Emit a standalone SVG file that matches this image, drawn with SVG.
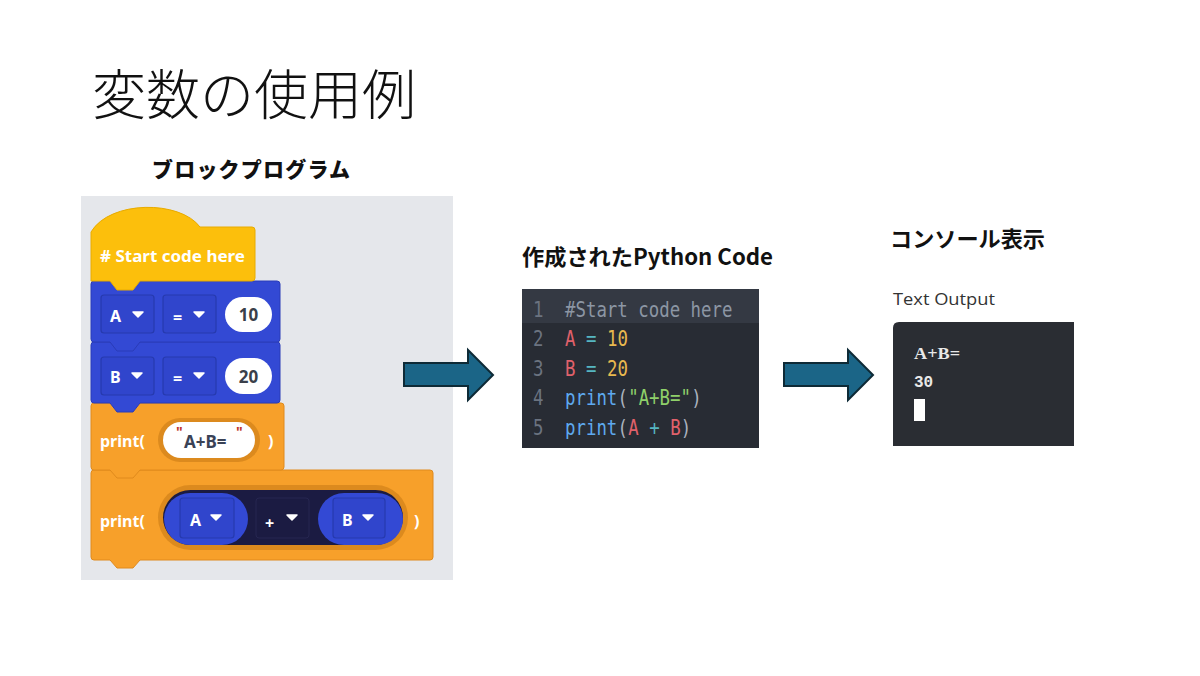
<svg xmlns="http://www.w3.org/2000/svg" width="1200" height="676" viewBox="0 0 1200 676">
<defs>
<style>
.jp{font-family:"Noto Sans CJK JP","Noto Sans",sans-serif;fill:#111}
.bt{font-family:"Noto Sans","Open Sans",sans-serif;font-weight:700;font-size:16px;fill:#fff}
.blue{fill:#3349d4;stroke:#2a3cb8;stroke-width:1}
.org{fill:#f7a02a;stroke:#e08a1c;stroke-width:1}
.dd{fill:#3045cc;stroke:#263aae;stroke-width:1.2}
.code{font-family:"DejaVu Sans Mono","Liberation Mono",monospace;font-size:17.4px}
.cm{fill:#8c96a4}.vr{fill:#e0616b}.op{fill:#56b6c2}.nm{fill:#e9b94f}.fn{fill:#5ea9ef}.pn{fill:#abb2bf}.st{fill:#8fd06a}.ln{fill:#6b7380}
.arrow{fill:#1b6587;stroke:#0e2a36;stroke-width:2}
</style>
</defs>
<rect width="1200" height="676" fill="#fff"/>
<g id="title"><text class="jp" x="92" y="115" font-size="54" font-weight="300" fill="#222">変数の使用例</text></g>
<g id="label-block"><text class="jp" x="152" y="177" font-size="21" font-weight="900" letter-spacing="1.2">ブロックプログラム</text></g>
<g id="label-python"><text class="jp" x="522" y="265" font-size="22" font-weight="700" textLength="251" lengthAdjust="spacingAndGlyphs">作成されたPython Code</text></g>
<g id="label-console"><text class="jp" x="890" y="247" font-size="22" font-weight="700" textLength="155" lengthAdjust="spacingAndGlyphs">コンソール表示</text></g>

<g id="block-program">
<rect x="81" y="196" width="372" height="384" fill="#e5e7eb"/>
<!-- orange block 2 -->
<path class="org" d="M91,473 Q91,470 94,470 L430,470 Q433,470 433,473 L433,557 Q433,560 430,560 L140,560 L133,568 L117,568 L110,560 L94,560 Q91,560 91,557 Z"/>
<rect x="158" y="485" width="250" height="65" rx="32.5" fill="#dc8a1e"/>
<rect x="163" y="490" width="240" height="55" rx="27.5" fill="#1b1b42"/>
<rect x="164" y="493" width="84" height="52" rx="26" fill="#3349d4"/>
<rect class="dd" x="180" y="498" width="54" height="40" rx="3"/>
<text class="bt" x="190" y="526" font-size="17">A</text>
<path d="M211,515 L221,515 L216,520 Z" fill="#fff" stroke="#fff" stroke-width="1.5" stroke-linejoin="round"/>
<rect x="256" y="498" width="53" height="40" rx="3" fill="#1b1b42" stroke="#262650"/>
<text class="bt" x="265" y="529">+</text>
<path d="M287,515 L297,515 L292,520 Z" fill="#fff" stroke="#fff" stroke-width="1.5" stroke-linejoin="round"/>
<rect x="318" y="493" width="85" height="52" rx="26" fill="#3349d4"/>
<rect class="dd" x="333" y="498" width="52" height="40" rx="3"/>
<text class="bt" x="342" y="526" font-size="17">B</text>
<path d="M363,515 L373,515 L368,520 Z" fill="#fff" stroke="#fff" stroke-width="1.5" stroke-linejoin="round"/>
<text class="bt" x="100" y="527" font-size="17">print(</text>
<text class="bt" x="414" y="527" font-size="17">)</text>
<!-- orange block 1 -->
<path class="org" d="M91,406 Q91,403 94,403 L281,403 Q284,403 284,406 L284,467 Q284,470 281,470 L140,470 L133,478 L117,478 L110,470 L94,470 Q91,470 91,467 Z"/>
<text class="bt" x="100" y="447" font-size="17">print(</text>
<rect x="158" y="418" width="102" height="44" rx="22" fill="#dc8a1e"/>
<rect x="163" y="422" width="92" height="36" rx="18" fill="#fff"/>
<text x="184" y="448" font-family="Noto Sans,sans-serif" font-weight="700" font-size="17" fill="#3a4256">A+B=</text>
<text x="176" y="437" font-family="Noto Sans,sans-serif" font-weight="700" font-size="14" fill="#c0392b">"</text>
<text x="236" y="437" font-family="Noto Sans,sans-serif" font-weight="700" font-size="14" fill="#c0392b">"</text>
<text class="bt" x="268" y="447" font-size="17">)</text>
<!-- blue block 2 -->
<path class="blue" d="M91,345 Q91,342 94,342 L277,342 Q280,342 280,345 L280,400 Q280,403 277,403 L140,403 L133,412 L117,412 L110,403 L94,403 Q91,403 91,400 Z"/>
<rect class="dd" x="101" y="357" width="53" height="38" rx="3"/>
<text class="bt" x="110" y="383" font-size="17">B</text>
<path d="M132,373 L142,373 L137,378 Z" fill="#fff" stroke="#fff" stroke-width="1.5" stroke-linejoin="round"/>
<rect class="dd" x="163" y="357" width="53" height="38" rx="3"/>
<text class="bt" x="173" y="384">=</text>
<path d="M194,373 L204,373 L199,378 Z" fill="#fff" stroke="#fff" stroke-width="1.5" stroke-linejoin="round"/>
<rect x="225" y="358" width="47" height="36" rx="18" fill="#fff"/>
<text x="248.5" y="383" text-anchor="middle" font-family="Noto Sans,sans-serif" font-weight="700" font-size="17" fill="#3a3f4a">20</text>
<!-- blue block 1 -->
<path class="blue" d="M91,284 Q91,281 94,281 L277,281 Q280,281 280,284 L280,339 Q280,342 277,342 L140,342 L133,351 L117,351 L110,342 L94,342 Q91,342 91,339 Z"/>
<rect class="dd" x="101" y="295" width="53" height="38" rx="3"/>
<text class="bt" x="110" y="322" font-size="17">A</text>
<path d="M133,312 L143,312 L138,317 Z" fill="#fff" stroke="#fff" stroke-width="1.5" stroke-linejoin="round"/>
<rect class="dd" x="163" y="295" width="53" height="38" rx="3"/>
<text class="bt" x="173" y="323">=</text>
<path d="M194,312 L204,312 L199,317 Z" fill="#fff" stroke="#fff" stroke-width="1.5" stroke-linejoin="round"/>
<rect x="225" y="297" width="47" height="35" rx="17.5" fill="#fff"/>
<text x="248.5" y="321" text-anchor="middle" font-family="Noto Sans,sans-serif" font-weight="700" font-size="17" fill="#3a3f4a">10</text>
<!-- hat block -->
<path d="M91,232 C110,200 180,200 200,227 L252,227 Q255,227 255,230 L255,278 Q255,281 252,281 L140,281 L133,290 L117,290 L110,281 L91,281 Z" fill="#fcbf0c" stroke="#e8ab00" stroke-width="1"/>
<text class="bt" x="100" y="262" textLength="145" lengthAdjust="spacingAndGlyphs">#&#160;Start code here</text>
</g>

<g id="python-code">
<rect x="522" y="289" width="237" height="159" fill="#282c34"/>
<rect x="522" y="289" width="237" height="34" fill="#343943"/>
<g class="code">
<g transform="matrix(1 0 0 1.2 0 -63.4)">
<text class="ln" x="533" y="317">1</text>
<text class="cm" x="565" y="317">#Start code here</text>
</g>
<g transform="matrix(1 0 0 1.2 0 -69.2)">
<text class="ln" x="533" y="346">2</text>
<text class="vr" x="565" y="346">A</text>
<text class="op" x="586" y="346">=</text>
<text class="nm" x="607" y="346">10</text>
</g>
<g transform="matrix(1 0 0 1.2 0 -75.2)">
<text class="ln" x="533" y="376">3</text>
<text class="vr" x="565" y="376">B</text>
<text class="op" x="586" y="376">=</text>
<text class="nm" x="607" y="376">20</text>
</g>
<g transform="matrix(1 0 0 1.2 0 -81)">
<text class="ln" x="533" y="405">4</text>
<text class="fn" x="565" y="405">print</text>
<text class="pn" x="617.6" y="405">(</text>
<text class="st" x="628.2" y="405">"A+B="</text>
<text class="pn" x="691.2" y="405">)</text>
</g>
<g transform="matrix(1 0 0 1.2 0 -87)">
<text class="ln" x="533" y="435">5</text>
<text class="fn" x="565" y="435">print</text>
<text class="pn" x="617.6" y="435">(</text>
<text class="vr" x="628.2" y="435">A</text>
<text class="op" x="649.2" y="435">+</text>
<text class="vr" x="670.2" y="435">B</text>
<text class="pn" x="680.8" y="435">)</text>
</g>
</g>
</g>

<g id="console">
<text x="893" y="305" font-family="Open Sans,Liberation Sans,sans-serif" font-size="17" fill="#333" textLength="102" lengthAdjust="spacingAndGlyphs">Text Output</text>
<path d="M899,322 L1074,322 L1074,446 L893,446 L893,328 Q893,322 899,322 Z" fill="#2a2d33"/>
<text x="914" y="359" font-family="Liberation Serif,serif" font-weight="700" font-size="16" fill="#e8e8e8" textLength="46" lengthAdjust="spacingAndGlyphs">A+B=</text>
<text x="914" y="387" font-family="Liberation Mono,monospace" font-weight="700" font-size="16" fill="#e8e8e8">30</text>
<rect x="914" y="399" width="11" height="22" fill="#fff"/>
</g>

<g id="connectors">
<path class="arrow" d="M404,363 L468,363 L468,350 L493,375 L468,400 L468,386 L404,386 Z"/>
<path class="arrow" d="M784,363 L848,363 L848,350 L873,375 L848,400 L848,386 L784,386 Z"/>
</g>
</svg>
